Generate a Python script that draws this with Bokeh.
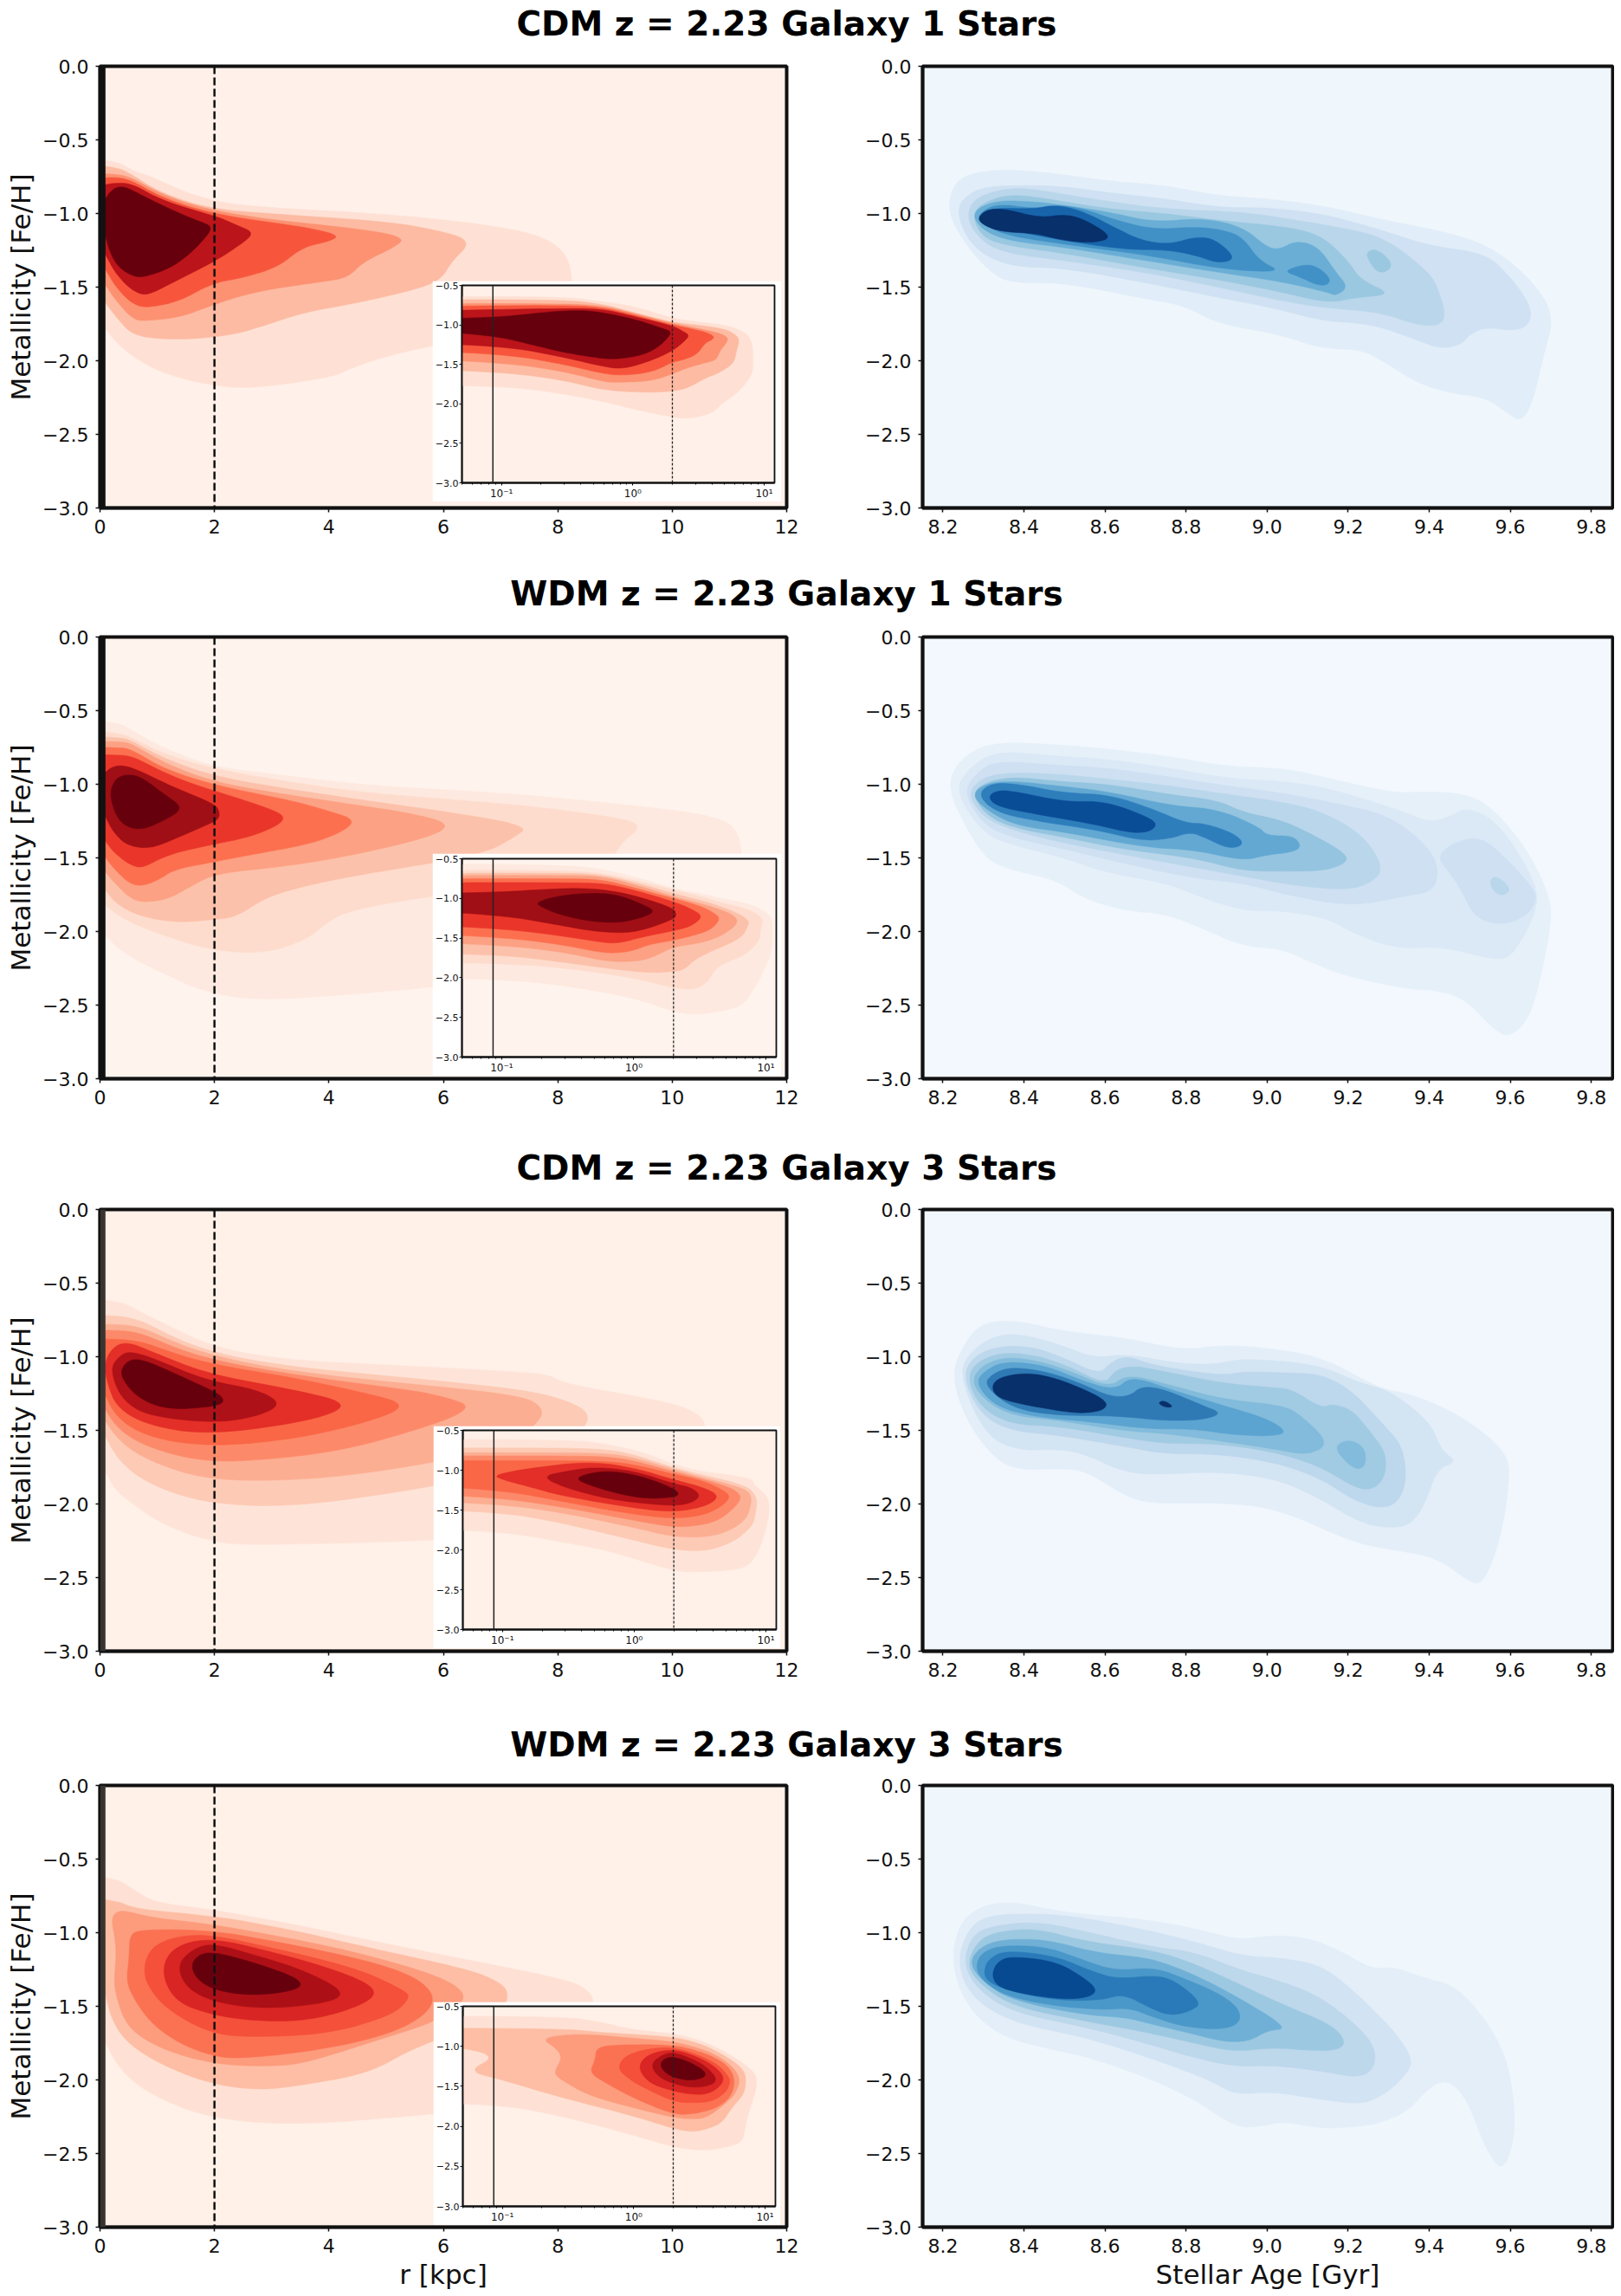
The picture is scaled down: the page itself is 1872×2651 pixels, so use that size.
import numpy as np
from bokeh.embed import file_html
from bokeh.resources import INLINE
from bokeh.models import Column, FixedTicker, Label, Span, Range1d
from bokeh.plotting import figure

# ---------- metallicity / radius contour bands (outer to inner) ----------
CDM1_R = [
 [(.015,-.64),(.3,-.64),(.6,-.71),(1,-.76),(2,-.92),(3,-.96),(5,-1.0),(7,-1.08),(8.1,-1.2),(8.3,-1.5),(8.0,-1.65),(6.3,-1.86),(5,-1.97),(4.4,-2.05),(4,-2.12),(2.7,-2.19),(2,-2.17),(1.1,-2.08),(.6,-1.97),(.27,-1.86),(.107,-1.78),(.015,-1.75)],
 [(.015,-.68),(.3,-.68),(.6,-.74),(1,-.84),(2,-.97),(3,-1.0),(5,-1.05),(6,-1.12),(6.5,-1.19),(6.14,-1.33),(5.96,-1.45),(5.5,-1.52),(4.5,-1.61),(3.6,-1.67),(2.9,-1.76),(2.3,-1.83),(1.4,-1.86),(.6,-1.83),(.3,-1.7),(.107,-1.6),(.015,-1.55)],
 [(.015,-.73),(.3,-.73),(.6,-.76),(1,-.85),(2,-.98),(3,-1.04),(4.5,-1.1),(5.34,-1.16),(5.15,-1.23),(4.6,-1.33),(4.35,-1.43),(4,-1.46),(2.74,-1.53),(2,-1.62),(1.4,-1.71),(.76,-1.73),(.6,-1.72),(.3,-1.59),(.107,-1.48),(.015,-1.42)],
 [(.015,-.77),(.3,-.75),(.6,-.78),(1,-.87),(2,-1.0),(3,-1.06),(3.7,-1.1),(4.19,-1.15),(4,-1.19),(3.54,-1.23),(3.1,-1.37),(2.47,-1.44),(2,-1.47),(1.4,-1.6),(.85,-1.64),(.6,-1.62),(.3,-1.5),(.107,-1.37),(.015,-1.32)],
 [(.015,-.83),(.3,-.79),(.6,-.8),(1,-.89),(2,-1.01),(2.4,-1.08),(2.7,-1.13),(2.47,-1.21),(2,-1.33),(1.4,-1.45),(.85,-1.56),(.6,-1.53),(.3,-1.41),(.107,-1.27),(.015,-1.22)],
 [(.015,-.93),(.086,-.91),(.18,-.855),(.3,-.82),(.49,-.82),(1,-.92),(1.8,-1.06),(1.95,-1.09),(1.88,-1.15),(1.57,-1.28),(1.2,-1.38),(.8,-1.43),(.6,-1.43),(.3,-1.35),(.18,-1.26),(.086,-1.13),(.015,-1.05)],
]
WDM1_R = [
 [(.015,-.56),(.3,-.58),(.58,-.63),(1.2,-.76),(2,-.88),(3.3,-.94),(4.5,-1.0),(7.2,-1.06),(9,-1.13),(10.6,-1.2),(11.2,-1.3),(11.2,-1.65),(9.7,-1.91),(8.2,-2.13),(6.8,-2.34),(4.8,-2.42),(2.9,-2.47),(1.93,-2.42),(1,-2.25),(.28,-2.09),(.1,-2.02),(.015,-2.0)],
 [(.015,-.64),(.3,-.65),(.58,-.68),(1.2,-.8),(2,-.89),(3.3,-.98),(4.5,-1.05),(7.2,-1.13),(9,-1.22),(9.5,-1.28),(9.1,-1.4),(8.9,-1.55),(6.8,-1.72),(5.8,-1.76),(4.35,-1.86),(4,-1.93),(3.6,-2.06),(2.9,-2.15),(2,-2.13),(1,-2.0),(.28,-1.87),(.1,-1.82),(.015,-1.8)],
 [(.015,-.68),(.3,-.68),(.58,-.7),(1.2,-.83),(2,-.94),(3.3,-1.03),(4.5,-1.1),(6,-1.18),(7.53,-1.28),(7.2,-1.37),(6.77,-1.46),(5.78,-1.54),(4.5,-1.62),(3.6,-1.69),(2.9,-1.77),(2.4,-1.9),(2,-1.92),(1.4,-1.94),(.76,-1.9),(.28,-1.8),(.1,-1.71),(.015,-1.69)],
 [(.015,-.71),(.3,-.71),(.58,-.72),(1.2,-.86),(2,-.98),(3.3,-1.07),(4.5,-1.14),(5.5,-1.2),(6.14,-1.27),(5.78,-1.36),(4.5,-1.48),(3.27,-1.56),(2,-1.61),(1.57,-1.7),(1.2,-1.78),(.85,-1.8),(.6,-1.79),(.28,-1.67),(.1,-1.59),(.015,-1.54)],
 [(.015,-.75),(.3,-.75),(.58,-.76),(1.2,-.9),(2,-1.0),(3.27,-1.1),(4,-1.18),(4.53,-1.25),(4,-1.37),(3.27,-1.44),(2,-1.53),(1.3,-1.58),(1.03,-1.65),(.76,-1.69),(.55,-1.68),(.28,-1.58),(.1,-1.49),(.015,-1.43)],
 [(.015,-.8),(.3,-.8),(.58,-.81),(.94,-.88),(2,-1.04),(2.8,-1.14),(3.35,-1.23),(2.74,-1.35),(2,-1.41),(1.2,-1.48),(.76,-1.57),(.55,-1.55),(.28,-1.47),(.1,-1.38),(.015,-1.32)],
 [(.015,-.95),(.1,-.92),(.19,-.89),(.36,-.87),(.6,-.89),(1,-.96),(2,-1.12),(2.11,-1.21),(2,-1.26),(1.29,-1.38),(.86,-1.44),(.47,-1.41),(.28,-1.34),(.1,-1.21),(.015,-1.14)],
 [(.18,-1.05),(.28,-.96),(.52,-.93),(.78,-.96),(1.22,-1.09),(1.44,-1.16),(1.22,-1.23),(.78,-1.31),(.47,-1.29),(.28,-1.21),(.2,-1.11)],
]
CDM3_R = [
 [(.015,-.61),(.3,-.62),(.58,-.66),(1.2,-.78),(2,-.93),(3.27,-1.02),(5.4,-1.06),(7.2,-1.1),(7.85,-1.12),(8.1,-1.18),(9.9,-1.3),(10.5,-1.39),(10.6,-1.5),(10.3,-1.66),(9.4,-1.9),(8.2,-2.11),(7,-2.22),(5.2,-2.26),(2.7,-2.28),(2,-2.26),(1,-2.11),(.6,-2.0),(.28,-1.9),(.1,-1.77),(.015,-1.73)],
 [(.015,-.72),(.3,-.72),(.6,-.74),(.94,-.79),(2,-.97),(3.27,-1.06),(5.4,-1.14),(7.4,-1.22),(8.2,-1.3),(8.58,-1.39),(8.4,-1.52),(8,-1.68),(6.9,-1.79),(5.5,-1.91),(3.5,-2.02),(2,-2.0),(1,-1.88),(.28,-1.66),(.1,-1.53),(.015,-1.48)],
 [(.015,-.78),(.3,-.78),(.6,-.79),(.94,-.83),(2,-.99),(3.27,-1.09),(5.4,-1.18),(7.4,-1.26),(7.78,-1.36),(7.6,-1.47),(7.1,-1.61),(5.5,-1.75),(3.7,-1.84),(2,-1.84),(1,-1.72),(.28,-1.53),(.1,-1.43),(.015,-1.37)],
 [(.015,-.82),(.3,-.82),(.6,-.83),(.94,-.87),(2,-1.02),(3.27,-1.11),(5.4,-1.22),(6.1,-1.28),(6.5,-1.34),(5.96,-1.45),(4.5,-1.62),(3.27,-1.69),(2,-1.72),(1,-1.63),(.28,-1.46),(.1,-1.35),(.015,-1.28)],
 [(.015,-.88),(.3,-.88),(.6,-.89),(.94,-.92),(2,-1.05),(3.27,-1.13),(4.5,-1.23),(5.48,-1.33),(4.5,-1.47),(3.27,-1.57),(2,-1.61),(.94,-1.55),(.28,-1.39),(.1,-1.25),(.015,-1.18)],
 [(.085,-1.06),(.168,-.97),(.46,-.89),(1,-.97),(2,-1.12),(3.27,-1.21),(4.48,-1.32),(3.6,-1.45),(2,-1.53),(.94,-1.47),(.28,-1.32),(.17,-1.22),(.1,-1.12)],
 [(.196,-1.08),(.31,-1.01),(.51,-.96),(1,-1.01),(2,-1.17),(2.74,-1.22),(3.2,-1.32),(2.74,-1.41),(2,-1.45),(.94,-1.4),(.6,-1.35),(.31,-1.23)],
 [(.35,-1.1),(.51,-1.02),(.77,-1.02),(1.27,-1.1),(2,-1.23),(2.2,-1.3),(2,-1.34),(1.27,-1.36),(.77,-1.3),(.46,-1.19)],
]
WDM3_R = [
 [(.015,-.62),(.3,-.63),(.58,-.7),(.94,-.79),(2,-.84),(3.27,-.93),(4.5,-1.03),(6.3,-1.17),(8.1,-1.31),(8.56,-1.39),(8.65,-1.5),(8.2,-1.64),(7.4,-1.86),(6.9,-2.1),(6.7,-2.18),(5.8,-2.24),(3.5,-2.31),(2,-2.26),(1,-2.11),(.28,-1.87),(.1,-1.73),(.015,-1.7)],
 [(.015,-.77),(.3,-.78),(.58,-.83),(2,-.88),(3.27,-.97),(4.5,-1.08),(6.3,-1.23),(7.05,-1.34),(7.15,-1.45),(6.9,-1.6),(5.5,-1.78),(4.7,-1.96),(3.5,-2.04),(2.8,-2.07),(2,-2.03),(1,-1.87),(.28,-1.64),(.1,-1.42),(.054,-1.31),(.09,-1.13),(.05,-1.01),(.015,-1.0)],
 [(.2,-.91),(.28,-.86),(.46,-.85),(1,-.9),(2,-.94),(3.27,-1.03),(4.5,-1.13),(5.87,-1.28),(6.46,-1.42),(6.1,-1.55),(5.5,-1.66),(3.66,-1.89),(2.84,-1.91),(2,-1.89),(1,-1.77),(.46,-1.62),(.28,-1.42),(.245,-1.33),(.286,-1.15),(.26,-1.03)],
 [(.52,-1.01),(.77,-.98),(2,-.98),(3.27,-1.07),(4.5,-1.17),(5.43,-1.28),(5.87,-1.42),(5.7,-1.56),(5.07,-1.69),(4,-1.79),(2.74,-1.85),(2,-1.85),(1,-1.65),(.6,-1.45),(.46,-1.33),(.51,-1.17)],
 [(.75,-1.28),(.85,-1.12),(1.27,-1.03),(2,-1.01),(3.27,-1.12),(4.5,-1.24),(5.33,-1.39),(5.42,-1.45),(5.07,-1.57),(4,-1.69),(2.74,-1.71),(2,-1.69),(1.2,-1.52),(.94,-1.42)],
 [(1.07,-1.26),(1.27,-1.1),(2,-1.03),(3.27,-1.15),(4.35,-1.28),(4.9,-1.4),(4.5,-1.51),(3.63,-1.6),(2.74,-1.6),(2,-1.56),(1.3,-1.46)],
 [(1.35,-1.22),(1.63,-1.11),(2,-1.07),(2.9,-1.17),(3.6,-1.26),(4.3,-1.4),(4,-1.48),(2.9,-1.52),(2,-1.47),(1.5,-1.37)],
 [(1.59,-1.22),(1.72,-1.15),(2,-1.13),(2.7,-1.2),(3.5,-1.31),(3.5,-1.39),(2.7,-1.43),(2,-1.39),(1.68,-1.31)],
]
# ---------- metallicity / stellar age contour bands ----------
CDM1_B = [
 [(8.21,-.97),(8.23,-.78),(8.28,-.72),(8.36,-.70),(8.48,-.73),(8.61,-.78),(8.75,-.81),(8.88,-.88),(9.0,-.9),(9.135,-.945),(9.28,-1.04),(9.44,-1.125),(9.55,-1.22),(9.65,-1.44),(9.71,-1.69),(9.68,-1.98),(9.66,-2.24),(9.63,-2.42),(9.59,-2.35),(9.54,-2.25),(9.45,-2.22),(9.37,-2.15),(9.29,-2.01),(9.23,-1.92),(9.135,-1.92),(9.03,-1.82),(8.88,-1.75),(8.79,-1.62),(8.7,-1.58),(8.575,-1.51),(8.48,-1.47),(8.36,-1.47),(8.31,-1.38),(8.25,-1.19)],
 [(8.23,-.97),(8.27,-.85),(8.33,-.81),(8.48,-.81),(8.61,-.86),(8.75,-.9),(8.88,-.96),(9,-.96),(9.135,-1.0),(9.28,-1.11),(9.4,-1.22),(9.54,-1.27),(9.6,-1.43),(9.65,-1.62),(9.65,-1.75),(9.61,-1.8),(9.54,-1.77),(9.5,-1.82),(9.48,-1.89),(9.43,-1.92),(9.37,-1.86),(9.26,-1.75),(9.135,-1.73),(9.03,-1.65),(8.88,-1.57),(8.7,-1.47),(8.5,-1.37),(8.36,-1.36),(8.27,-1.23)],
 [(8.26,-.97),(8.295,-.87),(8.38,-.82),(8.48,-.86),(8.61,-.92),(8.75,-.97),(8.94,-.99),(9.06,-1.04),(9.17,-1.09),(9.29,-1.16),(9.4,-1.4),(9.42,-1.5),(9.44,-1.67),(9.43,-1.76),(9.37,-1.76),(9.28,-1.67),(9.135,-1.64),(9.03,-1.59),(8.88,-1.5),(8.7,-1.4),(8.5,-1.32),(8.33,-1.26),(8.27,-1.11)],
 [(8.27,-.99),(8.32,-.9),(8.38,-.87),(8.48,-.91),(8.61,-.97),(8.75,-1.0),(8.89,-1.05),(9.05,-1.09),(9.135,-1.15),(9.2,-1.32),(9.23,-1.45),(9.31,-1.55),(9.22,-1.57),(9.15,-1.61),(9.03,-1.53),(8.88,-1.45),(8.7,-1.37),(8.5,-1.27),(8.36,-1.22),(8.295,-1.16)],
 [(8.27,-.99),(8.33,-.91),(8.43,-.92),(8.5,-.945),(8.61,-.99),(8.72,-1.06),(8.84,-1.03),(8.94,-1.09),(9.0,-1.23),(9.03,-1.245),(9.07,-1.185),(9.125,-1.22),(9.17,-1.4),(9.2,-1.5),(9.17,-1.56),(9.15,-1.535),(9.03,-1.46),(8.88,-1.4),(8.7,-1.32),(8.5,-1.23),(8.36,-1.185),(8.295,-1.11)],
 [(8.28,-1.02),(8.33,-.93),(8.43,-.97),(8.48,-.94),(8.55,-.97),(8.62,-1.04),(8.72,-1.11),(8.82,-1.09),(8.89,-1.11),(8.94,-1.16),(8.98,-1.32),(9.04,-1.4),(8.89,-1.38),(8.7,-1.28),(8.5,-1.21),(8.36,-1.15),(8.31,-1.09)],
 [(8.285,-1.03),(8.325,-.96),(8.42,-.97),(8.48,-.94),(8.55,-.99),(8.62,-1.09),(8.69,-1.185),(8.76,-1.21),(8.82,-1.16),(8.87,-1.17),(8.925,-1.305),(8.88,-1.34),(8.82,-1.28),(8.745,-1.245),(8.65,-1.245),(8.5,-1.185),(8.36,-1.11)],
 [(8.285,-1.03),(8.31,-.97),(8.355,-.97),(8.44,-1.03),(8.5,-1.005),(8.55,-1.04),(8.62,-1.16),(8.575,-1.2),(8.5,-1.185),(8.43,-1.135),(8.345,-1.125),(8.3,-1.08)],
]
CDM1_B_ISLANDS = [
 (3, [(9.245,-1.26),(9.27,-1.24),(9.305,-1.32),(9.305,-1.38),(9.275,-1.41),(9.25,-1.32)]),
 (5, [(9.04,-1.39),(9.1,-1.34),(9.135,-1.38),(9.16,-1.46),(9.135,-1.5),(9.075,-1.425)]),
]
WDM1_B = [
 [(8.21,-1.02),(8.24,-.83),(8.32,-.71),(8.48,-.73),(8.61,-.76),(8.76,-.81),(8.9,-.88),(9.04,-.89),(9.14,-.95),(9.31,-1.06),(9.39,-1.05),(9.48,-1.06),(9.55,-1.14),(9.64,-1.43),(9.7,-1.77),(9.7,-1.96),(9.68,-2.25),(9.65,-2.58),(9.6,-2.72),(9.56,-2.67),(9.49,-2.46),(9.42,-2.4),(9.34,-2.39),(9.19,-2.3),(9.1,-2.2),(9.04,-2.12),(8.94,-2.1),(8.84,-1.98),(8.75,-1.88),(8.65,-1.86),(8.55,-1.78),(8.48,-1.65),(8.38,-1.59),(8.31,-1.52),(8.26,-1.31)],
 [(8.23,-1.05),(8.26,-.9),(8.33,-.77),(8.48,-.81),(8.61,-.83),(8.76,-.89),(8.9,-.96),(9.04,-.98),(9.14,-1.02),(9.24,-1.1),(9.34,-1.19),(9.4,-1.26),(9.45,-1.22),(9.49,-1.16),(9.55,-1.22),(9.61,-1.41),(9.67,-1.72),(9.66,-1.89),(9.62,-2.1),(9.59,-2.19),(9.54,-2.18),(9.43,-2.1),(9.32,-2.12),(9.21,-2.01),(9.15,-1.91),(9.04,-1.86),(8.94,-1.86),(8.84,-1.77),(8.75,-1.67),(8.6,-1.6),(8.5,-1.5),(8.38,-1.42),(8.3,-1.34)],
 [(8.25,-1.05),(8.285,-.92),(8.33,-.84),(8.48,-.87),(8.61,-.89),(8.76,-.95),(8.9,-1.01),(9.04,-1.06),(9.19,-1.14),(9.31,-1.22),(9.42,-1.48),(9.42,-1.72),(9.34,-1.76),(9.21,-1.83),(9.06,-1.76),(8.94,-1.67),(8.82,-1.64),(8.65,-1.54),(8.5,-1.44),(8.38,-1.37),(8.3,-1.28)],
 [(8.26,-1.06),(8.3,-.95),(8.37,-.92),(8.48,-.93),(8.61,-.965),(8.76,-1.01),(8.905,-1.07),(9.04,-1.12),(9.14,-1.19),(9.24,-1.35),(9.29,-1.58),(9.25,-1.68),(9.19,-1.72),(9.06,-1.685),(8.94,-1.625),(8.82,-1.565),(8.65,-1.48),(8.5,-1.4),(8.38,-1.32),(8.3,-1.23)],
 [(8.27,-1.06),(8.31,-.98),(8.38,-.95),(8.48,-.98),(8.61,-1.0),(8.76,-1.07),(8.88,-1.11),(8.94,-1.19),(9.03,-1.24),(9.09,-1.31),(9.19,-1.46),(9.2,-1.53),(9.14,-1.59),(9.04,-1.59),(8.94,-1.59),(8.82,-1.5),(8.65,-1.445),(8.5,-1.36),(8.38,-1.3),(8.31,-1.22)],
 [(8.27,-1.07),(8.31,-.99),(8.38,-.98),(8.48,-1.01),(8.61,-1.05),(8.76,-1.145),(8.88,-1.17),(8.98,-1.29),(9.0,-1.35),(9.065,-1.35),(9.085,-1.42),(9.065,-1.46),(9.0,-1.48),(8.94,-1.52),(8.82,-1.445),(8.7,-1.43),(8.5,-1.325),(8.38,-1.28),(8.31,-1.18)],
 [(8.285,-1.07),(8.32,-.99),(8.39,-1.0),(8.5,-1.06),(8.61,-1.07),(8.72,-1.17),(8.8,-1.265),(8.845,-1.265),(8.92,-1.335),(8.945,-1.41),(8.905,-1.44),(8.845,-1.36),(8.81,-1.325),(8.76,-1.37),(8.69,-1.385),(8.58,-1.31),(8.43,-1.25),(8.33,-1.19)],
 [(8.31,-1.085),(8.335,-1.04),(8.38,-1.05),(8.5,-1.12),(8.6,-1.115),(8.7,-1.215),(8.73,-1.27),(8.71,-1.325),(8.66,-1.33),(8.58,-1.275),(8.455,-1.215),(8.335,-1.155)],
]
WDM1_B_ISLANDS = [
 (2, [(9.42,-1.5),(9.45,-1.41),(9.52,-1.35),(9.575,-1.46),(9.64,-1.65),(9.67,-1.77),(9.64,-1.9),(9.575,-1.96),(9.51,-1.9),(9.48,-1.72),(9.45,-1.6)]),
 (3, [(9.55,-1.66),(9.56,-1.62),(9.59,-1.67),(9.6,-1.73),(9.575,-1.76),(9.555,-1.71)]),
]
CDM3_B = [
 [(8.22,-1.13),(8.25,-.92),(8.295,-.77),(8.38,-.75),(8.5,-.83),(8.65,-.87),(8.79,-.955),(8.89,-.92),(9.0,-.94),(9.135,-1.0),(9.28,-1.22),(9.355,-1.25),(9.48,-1.4),(9.59,-1.64),(9.6,-1.83),(9.575,-2.26),(9.53,-2.56),(9.49,-2.51),(9.415,-2.36),(9.305,-2.31),(9.21,-2.26),(9.025,-2.03),(8.88,-1.99),(8.72,-2.0),(8.65,-1.95),(8.55,-1.77),(8.48,-1.76),(8.39,-1.77),(8.33,-1.7),(8.26,-1.45)],
 [(8.24,-1.13),(8.265,-.97),(8.33,-.85),(8.405,-.85),(8.5,-.93),(8.575,-1.01),(8.65,-.98),(8.79,-1.05),(8.88,-1.05),(8.94,-1.01),(9.125,-1.05),(9.23,-1.18),(9.305,-1.23),(9.405,-1.45),(9.43,-1.64),(9.47,-1.71),(9.42,-1.76),(9.39,-2.0),(9.355,-2.14),(9.305,-2.165),(9.23,-2.13),(9.135,-1.97),(9.025,-1.83),(8.88,-1.78),(8.745,-1.8),(8.65,-1.79),(8.55,-1.66),(8.48,-1.625),(8.39,-1.64),(8.305,-1.54)],
 [(8.25,-1.15),(8.27,-1.01),(8.33,-.93),(8.42,-.93),(8.5,-1.01),(8.585,-1.12),(8.61,-1.05),(8.65,-.99),(8.72,-1.06),(8.89,-1.13),(8.94,-1.1),(9.06,-1.11),(9.135,-1.12),(9.21,-1.23),(9.29,-1.47),(9.335,-1.61),(9.345,-1.85),(9.32,-2.0),(9.275,-2.03),(9.21,-1.97),(9.135,-1.83),(9.025,-1.72),(8.88,-1.66),(8.745,-1.66),(8.65,-1.61),(8.48,-1.53),(8.37,-1.505),(8.295,-1.4)],
 [(8.26,-1.16),(8.28,-1.04),(8.345,-.97),(8.43,-.99),(8.515,-1.07),(8.6,-1.19),(8.625,-1.09),(8.67,-1.06),(8.745,-1.1),(8.89,-1.18),(9.015,-1.21),(9.06,-1.22),(9.135,-1.35),(9.16,-1.32),(9.21,-1.36),(9.255,-1.51),(9.295,-1.66),(9.29,-1.83),(9.255,-1.91),(9.21,-1.88),(9.135,-1.75),(9.025,-1.65),(8.88,-1.59),(8.745,-1.59),(8.65,-1.55),(8.48,-1.47),(8.37,-1.46),(8.295,-1.35)],
 [(8.27,-1.17),(8.295,-1.06),(8.355,-1.0),(8.44,-1.03),(8.525,-1.11),(8.61,-1.21),(8.655,-1.12),(8.745,-1.18),(8.89,-1.29),(9.04,-1.33),(9.085,-1.4),(9.155,-1.59),(9.1,-1.67),(9.025,-1.63),(8.88,-1.57),(8.745,-1.52),(8.65,-1.505),(8.48,-1.43),(8.37,-1.4),(8.305,-1.3)],
 [(8.28,-1.18),(8.305,-1.09),(8.355,-1.03),(8.455,-1.06),(8.54,-1.16),(8.625,-1.23),(8.665,-1.13),(8.77,-1.23),(8.89,-1.33),(9.0,-1.42),(9.05,-1.51),(9.015,-1.54),(8.915,-1.53),(8.82,-1.49),(8.7,-1.49),(8.575,-1.445),(8.43,-1.41),(8.33,-1.34)],
 [(8.3,-1.19),(8.325,-1.11),(8.37,-1.07),(8.455,-1.1),(8.54,-1.18),(8.61,-1.27),(8.66,-1.27),(8.69,-1.2),(8.745,-1.22),(8.84,-1.33),(8.89,-1.385),(8.84,-1.43),(8.745,-1.435),(8.625,-1.4),(8.48,-1.4),(8.37,-1.35)],
 [(8.32,-1.19),(8.345,-1.135),(8.405,-1.11),(8.465,-1.135),(8.54,-1.21),(8.605,-1.3),(8.6,-1.36),(8.55,-1.385),(8.49,-1.37),(8.38,-1.315),(8.33,-1.27)],
]
CDM3_B_ISLANDS = [
 (4, [(9.165,-1.61),(9.2,-1.56),(9.24,-1.61),(9.245,-1.73),(9.225,-1.77),(9.195,-1.72)]),
 (7, [(8.73,-1.315),(8.745,-1.295),(8.77,-1.34),(8.75,-1.345)]),
]
WDM3_B = [
 [(8.22,-1.21),(8.24,-.93),(8.3,-.81),(8.38,-.79),(8.49,-.86),(8.7,-.91),(8.82,-.97),(8.93,-1.05),(9.0,-1.02),(9.1,-1.03),(9.185,-1.13),(9.26,-1.25),(9.31,-1.23),(9.39,-1.31),(9.465,-1.36),(9.54,-1.59),(9.59,-1.84),(9.61,-2.14),(9.61,-2.42),(9.58,-2.63),(9.54,-2.47),(9.51,-2.25),(9.48,-2.08),(9.44,-2.0),(9.4,-2.05),(9.345,-2.22),(9.27,-2.3),(9.21,-2.32),(9.125,-2.33),(9.04,-2.28),(8.98,-2.32),(8.92,-2.32),(8.82,-2.13),(8.7,-1.98),(8.565,-1.85),(8.48,-1.8),(8.345,-1.71),(8.26,-1.51)],
 [(8.235,-1.21),(8.26,-.98),(8.31,-.88),(8.43,-.87),(8.53,-.89),(8.7,-.98),(8.82,-1.06),(8.94,-1.16),(9.03,-1.17),(9.135,-1.22),(9.22,-1.41),(9.275,-1.56),(9.32,-1.69),(9.36,-1.86),(9.345,-1.96),(9.295,-2.09),(9.235,-2.17),(9.125,-2.13),(9.015,-2.08),(8.92,-2.1),(8.87,-2.02),(8.82,-1.96),(8.7,-1.84),(8.55,-1.71),(8.37,-1.61),(8.27,-1.44)],
 [(8.25,-1.21),(8.27,-1.03),(8.31,-.96),(8.43,-.92),(8.58,-1.01),(8.72,-1.1),(8.82,-1.13),(8.94,-1.26),(9.04,-1.335),(9.135,-1.44),(9.235,-1.66),(9.27,-1.81),(9.26,-1.94),(9.22,-1.985),(9.135,-1.94),(9.015,-1.9),(8.92,-1.91),(8.82,-1.85),(8.7,-1.75),(8.55,-1.64),(8.37,-1.54),(8.285,-1.385)],
 [(8.26,-1.21),(8.285,-1.06),(8.33,-.995),(8.43,-.97),(8.55,-1.06),(8.72,-1.12),(8.82,-1.21),(8.92,-1.335),(9.04,-1.49),(9.16,-1.625),(9.195,-1.74),(9.175,-1.8),(9.1,-1.8),(9.015,-1.78),(8.92,-1.81),(8.82,-1.75),(8.7,-1.675),(8.55,-1.6),(8.37,-1.5),(8.285,-1.335)],
 [(8.265,-1.21),(8.29,-1.1),(8.345,-1.045),(8.455,-1.045),(8.575,-1.135),(8.7,-1.17),(8.75,-1.21),(8.82,-1.285),(8.92,-1.425),(9.055,-1.65),(9.0,-1.665),(8.955,-1.74),(8.89,-1.74),(8.82,-1.69),(8.72,-1.625),(8.65,-1.575),(8.55,-1.56),(8.37,-1.46),(8.3,-1.335)],
 [(8.28,-1.235),(8.295,-1.135),(8.345,-1.085),(8.455,-1.095),(8.54,-1.18),(8.625,-1.26),(8.72,-1.235),(8.795,-1.31),(8.88,-1.41),(8.93,-1.51),(8.935,-1.61),(8.89,-1.66),(8.795,-1.64),(8.72,-1.575),(8.66,-1.51),(8.6,-1.525),(8.48,-1.5),(8.36,-1.435),(8.3,-1.335)],
 [(8.3,-1.26),(8.315,-1.17),(8.36,-1.12),(8.48,-1.16),(8.565,-1.26),(8.63,-1.315),(8.72,-1.29),(8.77,-1.32),(8.84,-1.475),(8.81,-1.535),(8.76,-1.565),(8.71,-1.51),(8.645,-1.415),(8.59,-1.46),(8.48,-1.46),(8.37,-1.4),(8.31,-1.335)],
 [(8.32,-1.285),(8.335,-1.195),(8.37,-1.16),(8.48,-1.195),(8.55,-1.31),(8.58,-1.385),(8.565,-1.435),(8.505,-1.455),(8.405,-1.42),(8.335,-1.37)],
]

# ---------- colours ----------
REDS = [
 ["#fff0e9","#fee1d4","#fdbba3","#fc9272","#f7563d","#bb141a","#67000d"],
 ["#fff3ed","#fde9df","#fedccd","#fcc1aa","#fca183","#fc7050","#ea362a","#a00f15","#67000d"],
 ["#fff0e8","#fee4d8","#fdcab5","#fcae92","#fc8a6a","#fa6747","#e32f27","#ae1117","#67000d"],
 ["#fff0e8","#fee1d4","#fdbea5","#fc9c7d","#fb7252","#f4503a","#d92523","#ac1016","#67000d"],
]
BLUES = [
 ["#eff6fc","#e1edf8","#cfe1f2","#bad6eb","#9ac8e0","#6aaed6","#4191c6","#1764ab","#08306b"],
 ["#f3f8fe","#e6f0f9","#dbe9f6","#cee0f2","#bad6eb","#94c4df","#62a8d3","#2f7ebc","#0a4d97"],
 ["#f2f7fd","#e4eef8","#d3e4f3","#bdd7ec","#a1cbe2","#82bbdb","#5ba3d0","#2f79b5","#08306b"],
 ["#eff6fc","#e3eef8","#d2e3f3","#bdd7eb","#9cc9e1","#70b0d7","#4a98c9","#2a7ab9","#084a91"],
]
TITLES = ["CDM z = 2.23 Galaxy 1 Stars","WDM z = 2.23 Galaxy 1 Stars","CDM z = 2.23 Galaxy 3 Stars","WDM z = 2.23 Galaxy 3 Stars"]
R_TICKS = [0,2,4,6,8,10,12]
AGE_TICKS = [8.2,8.4,8.6,8.8,9.0,9.2,9.4,9.6,9.8]
FEH_TICKS = [0.0,-0.5,-1.0,-1.5,-2.0,-2.5,-3.0]
INSET_FEH_TICKS = [-0.5,-1.0,-1.5,-2.0,-2.5,-3.0]
R_CUT = 2.0
R_INNER = 0.086

# layout in page pixels
ROW_TOP = [76, 735, 1396, 2061]
TITLE_Y = [27, 685, 1348, 2014]
INSET_BOX = [(499,324,401,254,32,5,8,21,361,228),
             (499,985,401,256,33,6,6,21,363,229),
             (500,1646,400,255,33,5,5,19,362,230),
             (500,2311,400,255,33,5,6,18,361,231)]
FONT = "DejaVu Sans"
FRAME_H = 510

def smooth(pts, logx=False, n=3):
    a = np.array(pts, float)
    if logx:
        a[:,0] = np.log10(a[:,0])
    for _ in range(n):
        b = np.roll(a, -1, axis=0)
        a = np.column_stack([0.75*a + 0.25*b, 0.25*a + 0.75*b]).reshape(-1, 2)
    if logx:
        a[:,0] = 10**a[:,0]
    return a

def draw(p, levels, palette, islands=(), logx=False):
    for i, pts in enumerate(levels):
        c = palette[i+1]
        s = smooth(pts, logx)
        p.patch(s[:,0], s[:,1], fill_color=c, line_color=c, line_width=0.5)
        for lev, ip in islands:
            if lev == i:
                s = smooth(ip, logx)
                p.patch(s[:,0], s[:,1], fill_color=palette[lev+1], line_color=palette[lev+1], line_width=0.5)

def minus(vals, fmt="%.1f"):
    return {v: (fmt % v).replace("-", "\u2212") for v in vals}

def style_axis(ax, size, tick=5, standoff=8, lw=3.5):
    ax.major_label_text_font = FONT
    ax.major_label_text_font_size = size
    ax.major_label_text_color = "#111111"
    ax.major_tick_in = 0
    ax.major_tick_out = tick
    ax.minor_tick_in = 0
    ax.minor_tick_out = 0
    ax.major_tick_line_width = 1.5 if lw > 2 else 1
    ax.major_tick_line_color = "#111111"
    ax.axis_line_width = lw
    ax.axis_line_color = "#111111"
    ax.major_label_standoff = standoff

def place(x, y):
    return {"position": "absolute", "left": f"{x}px", "top": f"{y}px"}

def panel(x0, row, xr, ticks, frame_w, mleft, mright, bottom, bg, xlabel=None, ylabel=None, xover=None):
    top = ROW_TOP[row]
    p = figure(x_range=Range1d(*xr), y_range=Range1d(-3, 0), frame_width=frame_w, frame_height=FRAME_H,
               min_border_left=mleft, min_border_right=mright, min_border_top=10, min_border_bottom=bottom,
               output_backend="svg", toolbar_location=None, background_fill_color=bg, frame_align=False,
               styles=place(x0, top-10))
    p.grid.visible = False
    p.outline_line_color = "#111111"
    p.outline_line_width = 4
    p.xaxis.ticker = FixedTicker(ticks=ticks)
    p.yaxis.ticker = FixedTicker(ticks=FEH_TICKS)
    p.yaxis.major_label_overrides = minus(FEH_TICKS)
    if xover:
        p.xaxis.major_label_overrides = xover
    style_axis(p.xaxis[0], "22px", standoff=8)
    style_axis(p.yaxis[0], "22px", standoff=8)
    for ax, txt in ((p.xaxis[0], xlabel), (p.yaxis[0], ylabel)):
        if txt:
            ax.axis_label = txt
            ax.axis_label_text_font = FONT
            ax.axis_label_text_font_size = "31px"
            ax.axis_label_text_font_style = "normal"
            ax.axis_label_text_color = "#111111"
            ax.axis_label_standoff = 4
    return p

def inset(row, levels):
    bx, by, bw, bh, ml, mt, mr, mb, fw, fh = INSET_BOX[row]
    p = figure(x_axis_type="log", x_range=Range1d(0.05, 12), y_range=Range1d(-3, -0.5),
               frame_width=fw, frame_height=fh, min_border_left=ml, min_border_right=mr,
               min_border_top=mt, min_border_bottom=mb, output_backend="svg", toolbar_location=None,
               background_fill_color=REDS[row][0], border_fill_color="white", frame_align=False,
               styles=place(bx, by))
    p.grid.visible = False
    p.outline_line_color = "#111111"
    p.outline_line_width = 1.8
    draw(p, levels, REDS[row], logx=True)
    p.add_layout(Span(location=R_INNER, dimension="height", line_color="#222222", line_width=1.5))
    p.add_layout(Span(location=R_CUT, dimension="height", line_color="#222222", line_width=1.3, line_dash="3 2"))
    p.yaxis.ticker = FixedTicker(ticks=INSET_FEH_TICKS)
    p.yaxis.major_label_overrides = minus(INSET_FEH_TICKS)
    p.xaxis.major_label_overrides = {0.1: "10\u207b\u00b9", 1: "10\u2070", 10: "10\u00b9"}
    style_axis(p.xaxis[0], "12px", tick=3, standoff=2, lw=1.8)
    style_axis(p.yaxis[0], "11px", tick=3, standoff=1, lw=1.8)
    p.xaxis[0].minor_tick_out = 2
    return p

children = []
R_SETS = [CDM1_R, WDM1_R, CDM3_R, WDM3_R]
B_SETS = [(CDM1_B, CDM1_B_ISLANDS), (WDM1_B, WDM1_B_ISLANDS), (CDM3_B, CDM3_B_ISLANDS), (WDM3_B, [])]
for r in range(4):
    last = r == 3
    # row title
    t = figure(x_range=Range1d(0, 1), y_range=Range1d(0, 1), width=1800, height=50, min_border=0,
               output_backend="svg", toolbar_location=None, outline_line_color=None, frame_align=False,
               x_axis_type=None, y_axis_type=None, styles=place(8, TITLE_Y[r]-25))
    t.grid.visible = False
    t.add_layout(Label(x=0.5, y=0.5, text=TITLES[r], text_font=FONT, text_font_style="bold",
                       text_font_size="39px", text_align="center", text_baseline="middle", text_color="#000000"))
    children.append(t)
    # left panel
    p = panel(3, r, (0, 12), R_TICKS, 793, 108, 20, 70 if last else 40, REDS[r][0],
              xlabel="r [kpc]" if last else None, ylabel="Metallicity [Fe/H]",
              xover={v: str(v) for v in R_TICKS})
    draw(p, R_SETS[r], REDS[r], logx=True)
    p.add_layout(Span(location=R_CUT, dimension="height", line_color="#111111", line_width=2.5, line_dash="9 4"))
    p.add_layout(Span(location=0.05, dimension="height", line_color="#111111" if r < 2 else "#3a3430", line_width=6))
    children.append(p)
    # right panel
    q = panel(990, r, (8.15, 9.853), AGE_TICKS, 797, 75, 2, 70 if last else 40, BLUES[r][0],
              xlabel="Stellar Age [Gyr]" if last else None, xover=minus(AGE_TICKS))
    draw(q, B_SETS[r][0], BLUES[r], B_SETS[r][1])
    children.append(q)
    children.append(inset(r, R_SETS[r]))

page = Column(children=children, width=1856, height=2635, styles={"position": "relative"})
open("out.html", "w").write(file_html(page, INLINE))
